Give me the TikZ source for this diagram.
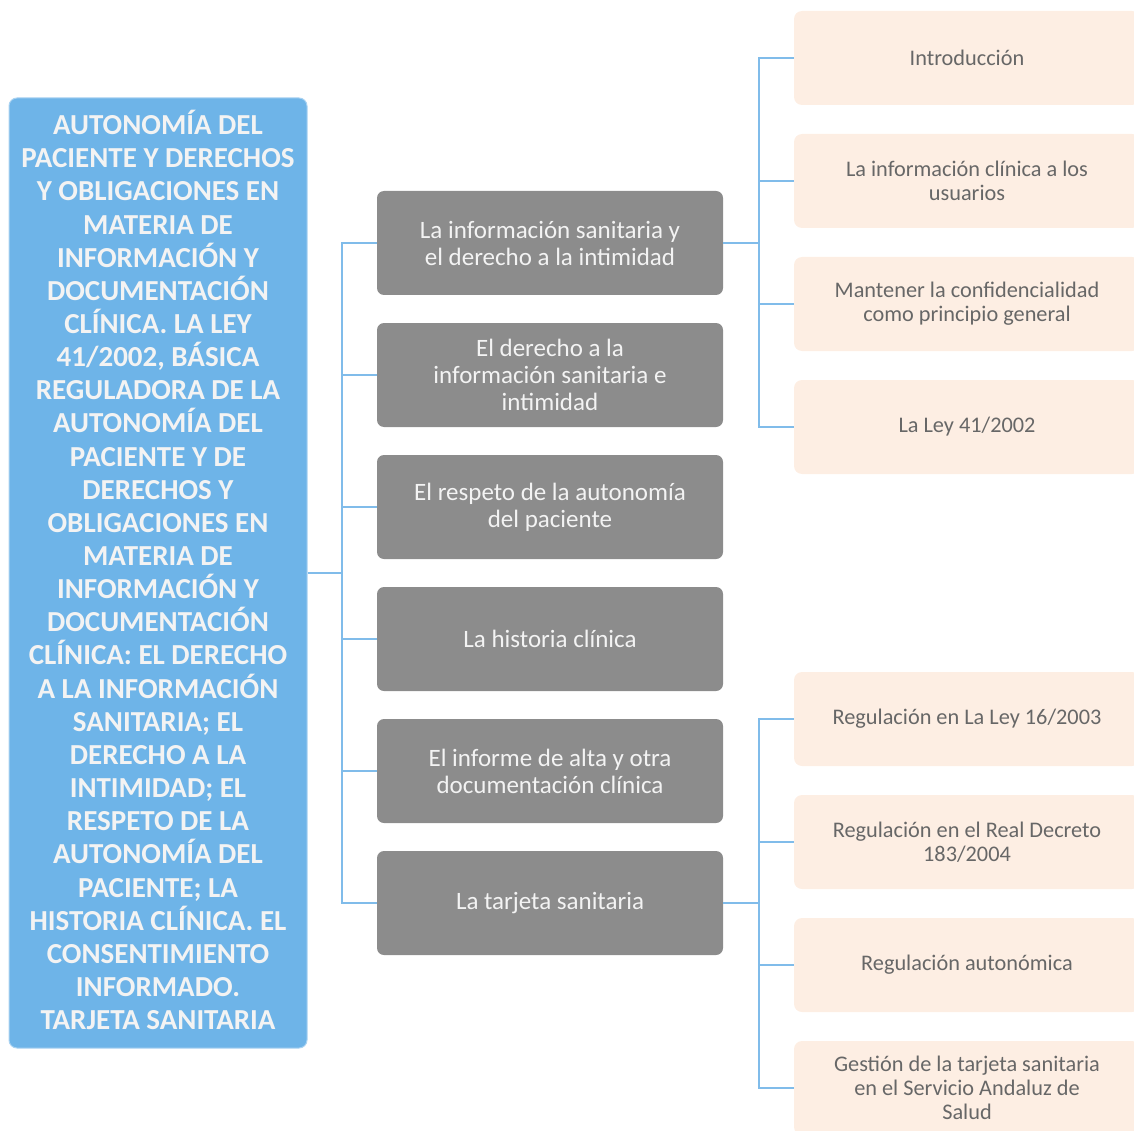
\documentclass[tikz,border=0pt]{standalone}
\usepackage{fontspec}
\setmainfont{Carlito}
\definecolor{mainblue}{HTML}{6EB4E8}
\definecolor{mainedge}{HTML}{A9D2F1}
\definecolor{topicgray}{HTML}{8C8C8C}
\definecolor{leafpeach}{HTML}{FDEEE3}
\definecolor{leaftext}{HTML}{676767}
\definecolor{linkblue}{HTML}{80BCEA}
\definecolor{softwhite}{HTML}{F3F3F3}
\begin{document}
\begin{tikzpicture}[x=1pt,y=-1pt,
  rootbox/.style={fill=mainblue,draw=mainedge,line width=1pt,rounded corners=8pt,
    minimum width=298pt,minimum height=950pt,inner sep=0pt,align=center,
    text=softwhite,font=\fontsize{29}{33.15}\selectfont\bfseries},
  topicbox/.style={fill=topicgray,rounded corners=7pt,minimum width=346pt,
    minimum height=104pt,inner sep=0pt,align=center,text=softwhite,
    font=\fontsize{25}{27}\selectfont},
  leafbox/.style={fill=leafpeach,rounded corners=8pt,minimum width=346pt,
    minimum height=94pt,inner sep=0pt,align=center,text=leaftext,
    font=\fontsize{22.3}{24}\selectfont},
  link/.style={draw=linkblue,line width=1.6pt}]
\useasboundingbox (0,0) rectangle (1134,1131);
\clip (0,0) rectangle (1134,1131);

% central theme
\node[rootbox] (L) at (158,573) {AUTONOMÍA DEL\\PACIENTE Y DERECHOS\\Y OBLIGACIONES EN\\MATERIA DE\\INFORMACIÓN Y\\DOCUMENTACIÓN\\CLÍNICA. LA LEY\\41/2002, BÁSICA\\REGULADORA DE LA\\AUTONOMÍA DEL\\PACIENTE Y DE\\DERECHOS Y\\OBLIGACIONES EN\\MATERIA DE\\INFORMACIÓN Y\\DOCUMENTACIÓN\\CLÍNICA: EL DERECHO\\A LA INFORMACIÓN\\SANITARIA; EL\\DERECHO A LA\\INTIMIDAD; EL\\RESPETO DE LA\\AUTONOMÍA DEL\\PACIENTE; LA\\HISTORIA CLÍNICA. EL\\CONSENTIMIENTO\\INFORMADO.\\TARJETA SANITARIA\vspace*{6pt}};

% main topics
\node[topicbox] (g1) at (550,243) {La información sanitaria y\\el derecho a la intimidad};
\node[topicbox] (g2) at (550,375) {El derecho a la\\información sanitaria e\\intimidad};
\node[topicbox] (g3) at (550,507) {El respeto de la autonomía\\del paciente};
\node[topicbox] (g4) at (550,639) {La historia clínica};
\node[topicbox] (g5) at (550,771) {El informe de alta y otra\\documentación clínica};
\node[topicbox] (g6) at (550,903) {La tarjeta sanitaria};

% subtopics
\node[leafbox] (r1) at (967,58) {Introducción};
\node[leafbox] (r2) at (967,181) {La información clínica a los\\usuarios};
\node[leafbox] (r3) at (967,304) {Mantener la confidencialidad\\como principio general};
\node[leafbox] (r4) at (967,427) {La Ley 41/2002};
\node[leafbox] (r5) at (967,719) {Regulación en La Ley 16/2003};
\node[leafbox] (r6) at (967,842) {Regulación en el Real Decreto\\183/2004};
\node[leafbox] (r7) at (967,965) {Regulación autonómica};
\node[leafbox] (r8) at (967,1088) {Gestión de la tarjeta sanitaria\\en el Servicio Andaluz de\\Salud};

% connectors
\coordinate (jl) at (342,573);
\coordinate (ja) at (759,243);
\coordinate (jb) at (759,903);
\draw[link] (L.east) -- (jl);
\foreach \i in {1,...,6} \draw[link] (jl) |- (g\i.west);
\draw[link] (g1.east) -- (ja);
\foreach \i in {1,...,4} \draw[link] (ja) |- (r\i.west);
\draw[link] (g6.east) -- (jb);
\foreach \i in {5,...,8} \draw[link] (jb) |- (r\i.west);
\end{tikzpicture}
\end{document}
